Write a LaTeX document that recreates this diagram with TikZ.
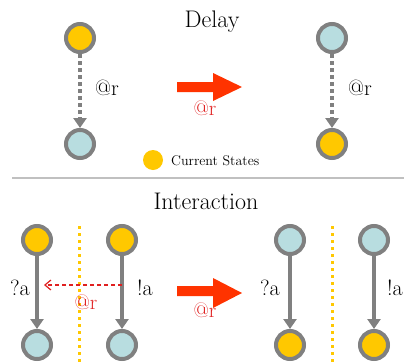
\documentclass[tikz,border=0pt]{standalone}
\usetikzlibrary{arrows.meta}
\definecolor{curyel}{HTML}{FFC800}
\definecolor{idleblue}{HTML}{B8DDE0}
\definecolor{stgray}{HTML}{808080}
\definecolor{bigred}{HTML}{FF3300}
\definecolor{labred}{HTML}{E02020}
\definecolor{sepgray}{HTML}{C0C0C0}
\begin{document}
\begin{tikzpicture}[x=1pt,y=-1pt,
  st/.style={circle,draw=stgray,line width=4pt,minimum size=28pt,inner sep=0pt},
  cur/.style={st,fill=curyel},
  idle/.style={st,fill=idleblue},
  lab/.style={inner sep=0pt,font=\fontsize{22}{24}\selectfont},
  redlab/.style={lab,text=labred,font=\fontsize{21}{23}\selectfont},
  ttl/.style={inner sep=0pt,anchor=base,font=\fontsize{24}{26}\selectfont},
  dotarrow/.style={draw=stgray,line width=3.5pt,dash pattern=on 3.5pt off 3.5pt,-{Triangle[length=10pt,width=13pt]}},
  solarrow/.style={draw=stgray,line width=3.5pt,-{Triangle[length=10pt,width=13pt]}},
  ydots/.style={draw=curyel,line width=3pt,dash pattern=on 3pt off 4pt},
  reddash/.style={draw=labred,line width=1.2pt,dash pattern=on 4pt off 3pt,-{Straight Barb[length=6pt,width=10pt]}},
  bigarrow/.style={fill=bigred,draw=none}
]
\useasboundingbox (0,0) rectangle (404,362);

% ---- Delay ----
\node[ttl] (tdelay) at (212,27) {Delay};
\node[cur]  (d1) at (80,38) {};
\node[idle] (d2) at (80,144) {};
\draw[dotarrow] (d1) -- (d2);
\node[lab] (dl1) at (107,88) {@r};

\node[idle] (d3) at (332,38) {};
\node[cur]  (d4) at (332,144) {};
\draw[dotarrow] (d3) -- (d4);
\node[lab] (dl2) at (360,88) {@r};

\path[bigarrow] (177,82) -- (213,82) -- (213,73) -- (242,87) -- (213,101) -- (213,92) -- (177,92) -- cycle;
\node[redlab] (dr) at (205,108) {@r};

\node[circle,fill=curyel,minimum size=20pt,inner sep=0pt] (leg) at (153,160) {};
\node[inner sep=0pt,anchor=west,font=\fontsize{14}{16}\selectfont] (legt) at (171,161) {Current States};

\draw[sepgray,line width=1.5pt] (12,178) -- (404,178);

% ---- Interaction ----
\node[ttl] (tint) at (206,209) {Interaction};

\draw[ydots] (79,226) -- (79,362);
\draw[ydots] (332,226) -- (332,362);

\node[cur]  (a1) at (37,240) {};
\node[idle] (a2) at (37,345) {};
\node[cur]  (b1) at (122,240) {};
\node[idle] (b2) at (122,345) {};
\draw[solarrow] (a1) -- (a2);
\draw[solarrow] (b1) -- (b2);
\node[lab] (qa1) at (20,288) {?a};
\node[lab] (ea1) at (145,288) {!a};
\coordinate (ds) at (122,285);
\coordinate (de) at (44,285);
\draw[reddash] (ds) -- (de);
\node[redlab] (ir1) at (86,302) {@r};

\path[bigarrow] (177,286) -- (213,286) -- (213,278) -- (242,293) -- (213,308) -- (213,296) -- (177,296) -- cycle;
\node[redlab] (ir2) at (205,310) {@r};

\node[idle] (c1) at (290,240) {};
\node[cur]  (c2) at (290,345) {};
\node[idle] (e1) at (374,240) {};
\node[cur]  (e2) at (374,345) {};
\draw[solarrow] (c1) -- (c2);
\draw[solarrow] (e1) -- (e2);
\node[lab] (qa2) at (270,288) {?a};
\node[lab,anchor=east] (ea2) at (403,288) {!a};
\end{tikzpicture}
\end{document}
